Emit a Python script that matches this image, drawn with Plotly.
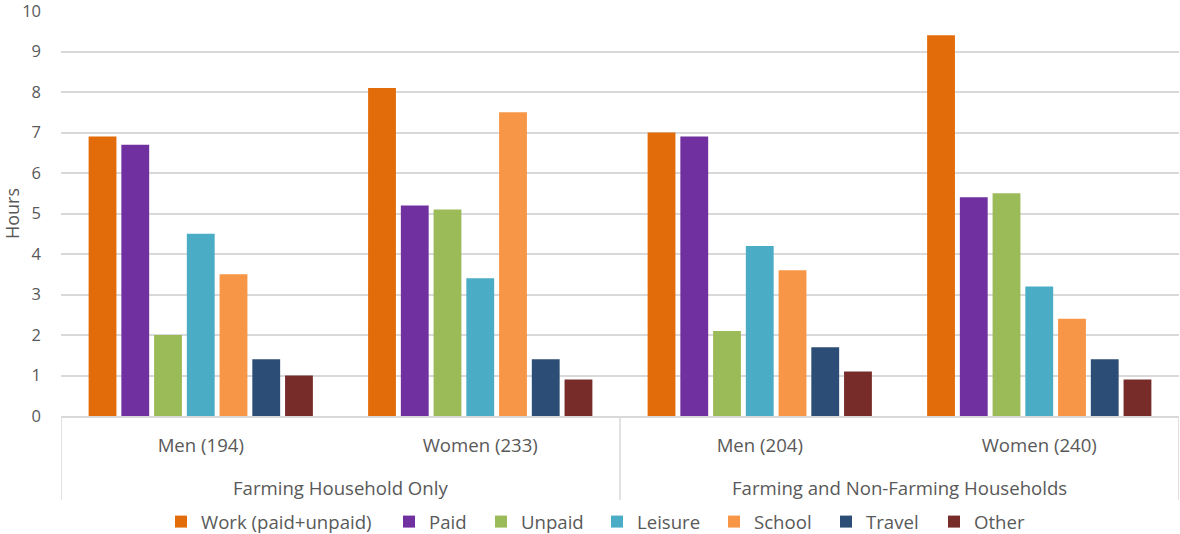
import plotly.graph_objects as go

groups = ["Farming Household Only", "Farming and Non-Farming Households"]
subgroups = ["Men (194)", "Women (233)", "Men (204)", "Women (240)"]

series = ["Work (paid+unpaid)", "Paid", "Unpaid", "Leisure", "School", "Travel", "Other"]
colors = ["#E36C0A", "#7030A0", "#9BBB59", "#4BACC6", "#F79646", "#2C4D75", "#772C2A"]

work = [6.9, 8.1, 7.0, 9.4]
paid = [6.7, 5.2, 6.9, 5.4]
unpaid = [2.0, 5.1, 2.1, 5.5]
leisure = [4.5, 3.4, 4.2, 3.2]
school = [3.5, 7.5, 3.6, 2.4]
travel = [1.4, 1.4, 1.7, 1.4]
other = [1.0, 0.9, 1.1, 0.9]

values = [work, paid, unpaid, leisure, school, travel, other]

FONT = "Open Sans"
TXT = "#595959"
GRID = "#D9D9D9"
FS = 18.6

W, H = 1180, 534
ML, MR, MT, MB = 61, 1, 11, 118
plot_w = W - ML - MR
plot_h = H - MT - MB

def below(px):
    return -px / plot_h

def xpaper(px):
    return (px - ML) / plot_w

# pixel position where each legend entry's text starts
legend_text_px = [201, 429, 521, 637, 754, 866, 974]

fig = go.Figure()
legends = {}
for i, (name, col, vals) in enumerate(zip(series, colors, values)):
    key = "legend" if i == 0 else f"legend{i + 1}"
    fig.add_trace(go.Bar(
        x=subgroups, y=vals, name=name, legend=key,
        marker=dict(color=col, line=dict(width=0)),
    ))
    legends[key] = dict(
        orientation="h", x=xpaper(legend_text_px[i] - 40), xanchor="left",
        yref="container", y=1 - 522 / H, yanchor="middle", itemwidth=30,
        font=dict(family=FONT, size=FS, color=TXT), bgcolor="rgba(0,0,0,0)",
    )

# group labels (second level of the category axis)
annotations = []
for i, g in enumerate(groups):
    annotations.append(dict(
        x=2 * i + 0.5, xref="x", y=below(71), yref="paper",
        text=g, showarrow=False, xanchor="center", yanchor="middle",
        font=dict(family=FONT, size=FS, color=TXT),
    ))

# dividers between groups
shapes = []
for xd in [-0.5, 1.5, 3.5]:
    shapes.append(dict(type="line", xref="x", yref="paper", x0=xd, x1=xd,
                       y0=0, y1=below(84), line=dict(color=GRID, width=1.5)))

fig.update_layout(
    width=W, height=H,
    margin=dict(l=ML, r=MR, t=MT, b=MB),
    paper_bgcolor="white", plot_bgcolor="white",
    barmode="group", bargap=0.18, bargroupgap=0.15,
    font=dict(family=FONT, size=FS, color=TXT),
    showlegend=True,
    annotations=annotations,
    shapes=shapes,
    **legends,
)
fig.update_yaxes(range=[0, 10], dtick=1, showgrid=True, gridcolor=GRID, gridwidth=1.5,
                 zeroline=False, showline=False, ticks="", automargin=False,
                 ticklabelstandoff=19, ticklabeloverflow="allow",
                 tickfont=dict(family=FONT, size=16.5, color=TXT),
                 title=dict(text="Hours", font=dict(family=FONT, size=18, color=TXT), standoff=4))
fig.update_xaxes(type="category", range=[-0.5, 3.5], showline=True, linecolor=GRID, linewidth=1.5,
                 showgrid=False, automargin=False, ticks="", ticklabelstandoff=12,
                 tickfont=dict(family=FONT, size=FS, color=TXT))

fig.write_html("out.html", config={"displayModeBar": False},
               post_script="document.body.style.margin='0';")
